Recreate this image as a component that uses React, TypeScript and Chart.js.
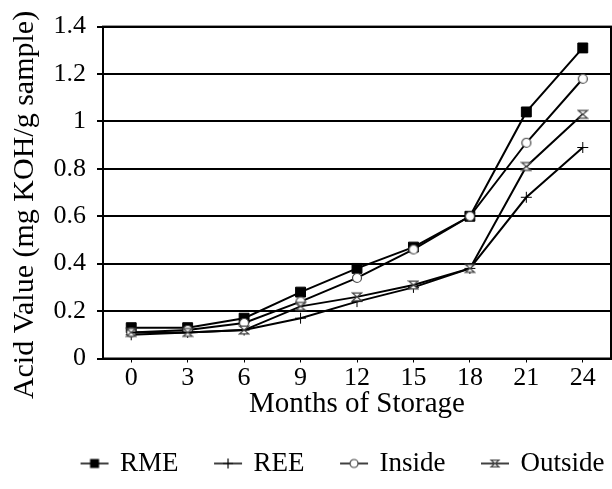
import React, { useEffect, useRef } from "react";
import { Chart, registerables } from "chart.js";

Chart.register(...registerables);

const months = ["0", "3", "6", "9", "12", "15", "18", "21", "24"];
const seriesNames = ["RME", "REE", "Inside", "Outside"];
const rme = [0.13, 0.13, 0.17, 0.28, 0.38, 0.47, 0.6, 1.04, 1.31];
const ree = [0.1, 0.11, 0.12, 0.17, 0.24, 0.3, 0.38, 0.68, 0.89];
const inside = [0.11, 0.12, 0.15, 0.24, 0.34, 0.46, 0.6, 0.91, 1.18];
const outside = [0.11, 0.11, 0.12, 0.22, 0.26, 0.31, 0.38, 0.81, 1.03];
const yMin = 0;
const yMax = 1.4;
const yStep = 0.2;
const xTitle = "Months of Storage";
const yTitle = "Acid Value (mg KOH/g sample)";

const FONT = "'Liberation Serif', 'Times New Roman', serif";

function drawMarker(ctx: CanvasRenderingContext2D, kind: string, cx: number, cy: number, s: number) {
  ctx.save();
  if (kind === "square") {
    ctx.fillStyle = "#000";
    ctx.fillRect(cx - s, cy - s, 2 * s, 2 * s);
  } else if (kind === "cross") {
    ctx.strokeStyle = "#000";
    ctx.lineWidth = 1.2;
    ctx.beginPath();
    ctx.moveTo(cx - s, cy);
    ctx.lineTo(cx + s, cy);
    ctx.moveTo(cx, cy - s);
    ctx.lineTo(cx, cy + s);
    ctx.stroke();
  } else if (kind === "circle") {
    ctx.fillStyle = "#fff";
    ctx.strokeStyle = "#444";
    ctx.lineWidth = 1.2;
    ctx.beginPath();
    ctx.arc(cx, cy, s, 0, Math.PI * 2);
    ctx.fill();
    ctx.stroke();
  } else if (kind === "hourglass") {
    ctx.fillStyle = "#fff";
    ctx.strokeStyle = "#444";
    ctx.lineWidth = 1.2;
    ctx.beginPath();
    ctx.moveTo(cx - s, cy - s * 0.85);
    ctx.lineTo(cx + s, cy - s * 0.85);
    ctx.lineTo(cx - s, cy + s * 0.85);
    ctx.lineTo(cx + s, cy + s * 0.85);
    ctx.closePath();
    ctx.fill();
    ctx.stroke();
  }
  ctx.restore();
}

function markerCanvas(kind: string, size: number) {
  const c = document.createElement("canvas");
  c.width = size;
  c.height = size;
  const ctx = c.getContext("2d")!;
  drawMarker(ctx, kind, size / 2, size / 2, size / 2 - 1.5);
  return c;
}

function legendCanvas(kind: string, w: number, h: number, ms: number) {
  const c = document.createElement("canvas");
  c.width = w;
  c.height = h;
  const ctx = c.getContext("2d")!;
  ctx.strokeStyle = "#000";
  ctx.lineWidth = 1.5;
  ctx.beginPath();
  ctx.moveTo(3, h / 2);
  ctx.lineTo(w - 3, h / 2);
  ctx.stroke();
  drawMarker(ctx, kind, w / 2, h / 2, ms);
  return c;
}

const kinds = ["square", "cross", "circle", "hourglass"];

const frame = {
  id: "frame",
  afterDatasetsDraw(chart: any) {
    const { ctx, chartArea } = chart;
    ctx.save();
    ctx.strokeStyle = "#000";
    ctx.lineWidth = 2;
    ctx.strokeRect(chartArea.left, chartArea.top, chartArea.right - chartArea.left, chartArea.bottom - chartArea.top);
    ctx.restore();
  },
};

const legendShift = {
  id: "legendShift",
  afterLayout(chart: any) {
    const lg = chart.legend;
    if (lg) {
      lg.left += 38;
      lg.right += 38;
    }
  },
};

const yTitlePlugin = {
  id: "yTitle",
  afterDraw(chart: any) {
    const { ctx } = chart;
    ctx.save();
    ctx.translate(25, 205);
    ctx.rotate(-Math.PI / 2);
    ctx.fillStyle = "#000";
    ctx.font = "30px " + FONT;
    ctx.textAlign = "center";
    ctx.textBaseline = "middle";
    ctx.fillText(yTitle, 0, 0);
    ctx.restore();
  },
};

export default function App() {
  const ref = useRef<HTMLCanvasElement | null>(null);
  useEffect(() => {
    if (!ref.current) return;
    const seriesData = [rme, ree, inside, outside];
    const pointImgs = ["rect", "cross", markerCanvas("circle", 12), markerCanvas("hourglass", 12)];
    const legendImgs = kinds.map((k, i) => legendCanvas(k, 34, 14, i === 0 ? 4.5 : i === 1 ? 5 : 4));
    const chart = new Chart(ref.current, {
      type: "line",
      data: {
        labels: months,
        datasets: seriesNames.map((name, i) => ({
          label: name,
          data: seriesData[i],
          borderColor: "#000",
          backgroundColor: "#000",
          borderWidth: 2,
          pointStyle: pointImgs[i] as any,
          pointRadius: i === 0 ? 7 : i === 1 ? 5.5 : 5,
          pointBorderColor: "#000",
          pointBackgroundColor: "#000",
          pointBorderWidth: 1,
          tension: 0,
          order: 3 - i,
        })),
      },
      options: {
        animation: false,
        responsive: false,
        maintainAspectRatio: false,
        layout: { autoPadding: false, padding: { left: 0, right: 1, top: 26, bottom: 2 } },
        plugins: {
          tooltip: { enabled: false },
          legend: {
            position: "bottom",
            align: "center",
            labels: {
              usePointStyle: true,
              pointStyleWidth: 24,
              padding: 37.5,
              color: "#000",
              font: { family: FONT, size: 27 },
              generateLabels: (ch: any) =>
                ch.data.datasets.map((d: any, i: number) => ({
                  text: d.label,
                  fillStyle: "#000",
                  strokeStyle: "#000",
                  lineWidth: 0,
                  pointStyle: legendImgs[i],
                  datasetIndex: i,
                  hidden: false,
                  fontColor: "#000",
                })),
            },
          },
        },
        scales: {
          x: {
            type: "category",
            offset: true,
            grid: {
              offset: false,
              drawOnChartArea: false,
              drawTicks: true,
              tickLength: 4,
              color: "#000",
              lineWidth: 1,
            },
            border: { display: true, color: "#000", width: 2 },
            ticks: { color: "#000", font: { family: FONT, size: 26 }, padding: 0, maxRotation: 0, autoSkip: false },
            title: {
              display: true,
              text: xTitle,
              color: "#000",
              font: { family: FONT, size: 29 },
              padding: { top: 0, bottom: -9.5 },
            },
            afterFit: (s: any) => {
              s.height = 54;
            },
          },
          y: {
            min: yMin,
            max: yMax,
            ticks: {
              stepSize: yStep,
              color: "#000",
              font: { family: FONT, size: 26 },
              padding: 11,
              callback: (v: any) => String(Number(Number(v).toFixed(1))),
            },
            grid: { color: "#000", lineWidth: 2, tickLength: 6, drawTicks: true },
            border: { display: true, color: "#000", width: 2 },
            title: { display: false, text: yTitle },
            afterFit: (s: any) => {
              s.width = 103;
            },
          },
        },
      },
      plugins: [frame, legendShift, yTitlePlugin],
    } as any);
    return () => chart.destroy();
  }, []);
  return (
    <div style={{ position: "fixed", left: 0, top: 0, width: 612, height: 489, background: "#fff" }}>
      <canvas ref={ref} width={612} height={489} style={{ display: "block", width: 612, height: 489 }} />
    </div>
  );
}
